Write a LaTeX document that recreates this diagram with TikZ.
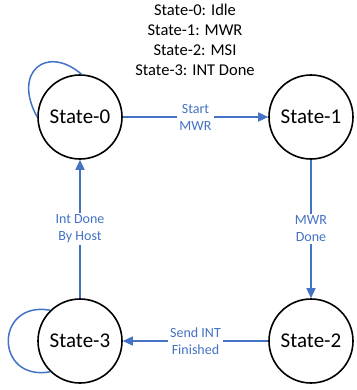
\documentclass[tikz,border=0pt]{standalone}
\usepackage{fontspec}
\setmainfont{Carlito}
\usetikzlibrary{arrows.meta}
\definecolor{flowblue}{HTML}{4472C4}
\begin{document}
\begin{tikzpicture}[x=1pt,y=1pt,
	state/.style={draw=black, line width=1.6pt, circle, minimum size=84pt, inner sep=0pt, font=\fontsize{21}{24}\selectfont},
	flow/.style={draw=flowblue, line width=1.5pt, -{Triangle[length=10pt,width=9pt]}},
	loopline/.style={draw=flowblue, line width=1.5pt},
	lbl/.style={fill=white, text=flowblue, align=center, inner sep=2pt, font=\fontsize{14}{17}\selectfont}]
	\useasboundingbox (0,0) rectangle (356,-390);
	
	\node[align=center, font=\fontsize{16.5}{20}\selectfont] (legend) at (195,-40) {State-0: Idle\\State-1: MWR\\State-2: MSI\\State-3: INT Done};
	
	\node[state] (s0) at (80,-117) {State-0};
	\node[state] (s1) at (311,-117) {State-1};
	\node[state] (s2) at (311,-341) {State-2};
	\node[state] (s3) at (80,-341) {State-3};
	
	\draw[flow] (s0) -- (s1) node[midway, lbl] {Start\\MWR};
	\draw[flow] (s1) -- (s2) node[midway, lbl] {MWR\\Done};
	\draw[flow] (s2) -- (s3) node[midway, lbl] {Send INT\\Finished};
	\draw[flow] (s3) -- (s0) node[midway, lbl] {Int Done\\By Host};
	
	\draw[loopline] (s0.180) .. controls +(-25,45) and +(-35,30) .. (s0.88);
	\draw[loopline] (s3.134) .. controls +(-56,10) and +(-56,-10) .. (s3.226);
\end{tikzpicture}
\end{document}
